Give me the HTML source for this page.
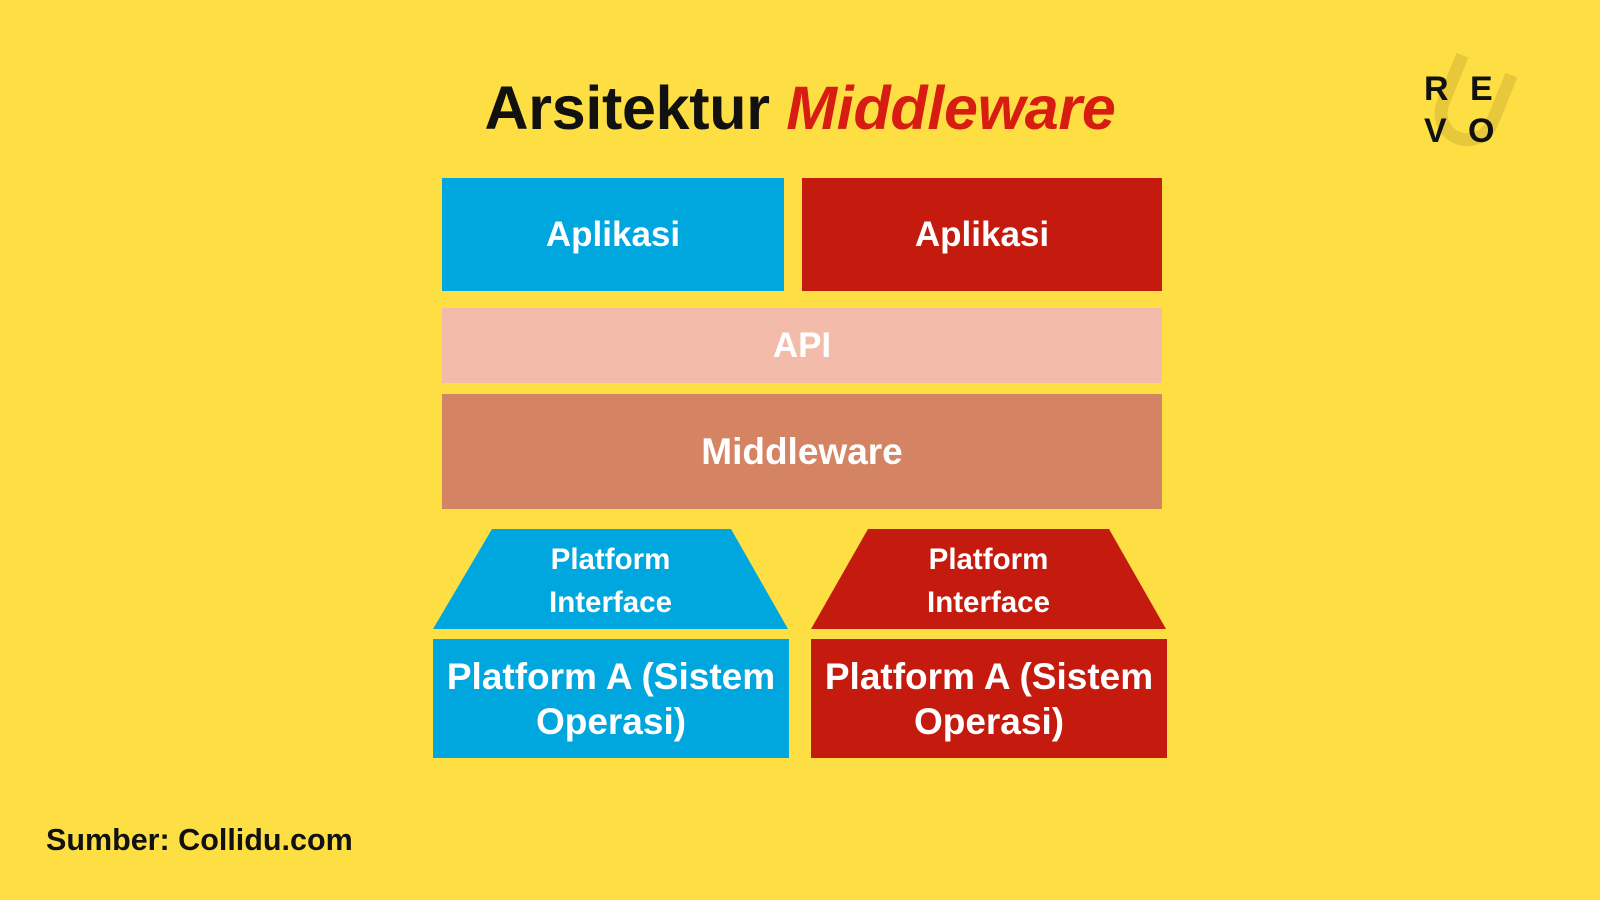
<!DOCTYPE html>
<html><head><meta charset="utf-8"><style>
body{margin:0;width:1600px;height:900px;background:#fedf43;position:relative;overflow:hidden;font-family:"Liberation Sans",sans-serif;font-weight:bold}
.b{position:absolute;display:flex;align-items:center;justify-content:center;color:#fff;text-align:center}
.blue{background:#00a7df}.red{background:#c41b0e}
</style></head><body>
<div style="position:absolute;left:0;width:1600px;text-align:center;top:73px;font-size:61px;color:#111;letter-spacing:-0.3px">Arsitektur <span style="color:#d71d12;font-style:italic">Middleware</span></div>
<div class="b blue" style="left:442px;top:178px;width:342px;height:113px;font-size:35px">Aplikasi</div>
<div class="b red" style="left:802px;top:178px;width:360px;height:113px;font-size:35px">Aplikasi</div>
<div class="b" style="left:442px;top:308px;width:720px;height:75px;background:#f3bcaa;font-size:35px">API</div>
<div class="b" style="left:442px;top:394px;width:720px;height:115px;background:#d58463;font-size:37px">Middleware</div>
<svg style="position:absolute;left:0;top:0" width="1600" height="900">
<polygon points="492,529 731,529 788,629 433,629" fill="#00a7df"/>
<polygon points="868,529 1109,529 1166,629 811,629" fill="#c41b0e"/>
</svg>
<div class="b" style="left:433px;top:536px;width:355px;height:90px;font-size:29.5px;line-height:43px">Platform<br>Interface</div>
<div class="b" style="left:811px;top:536px;width:355px;height:90px;font-size:29.5px;line-height:43px">Platform<br>Interface</div>
<div class="b blue" style="left:433px;top:639px;width:356px;height:119px;font-size:37px;line-height:45px">Platform A (Sistem<br>Operasi)</div>
<div class="b red" style="left:811px;top:639px;width:356px;height:119px;font-size:37px;line-height:45px">Platform A (Sistem<br>Operasi)</div>
<div style="position:absolute;left:46px;top:823px;font-size:30.5px;color:#111">Sumber: Collidu.com</div>
<div style="position:absolute;left:1420px;top:62px;width:90px;height:95px">
<div style="position:absolute;left:18px;top:0px;width:40px;height:72px;border:13px solid rgba(180,150,40,0.3);border-top:none;border-radius:0 0 34px 34px;transform:rotate(22deg)"></div>
<div style="position:absolute;left:4px;top:8px;font-size:34px;color:#111">R</div>
<div style="position:absolute;left:50px;top:8px;font-size:34px;color:#111">E</div>
<div style="position:absolute;left:4px;top:50px;font-size:34px;color:#111">V</div>
<div style="position:absolute;left:48px;top:50px;font-size:34px;color:#111">O</div>
</div>
</body></html>
